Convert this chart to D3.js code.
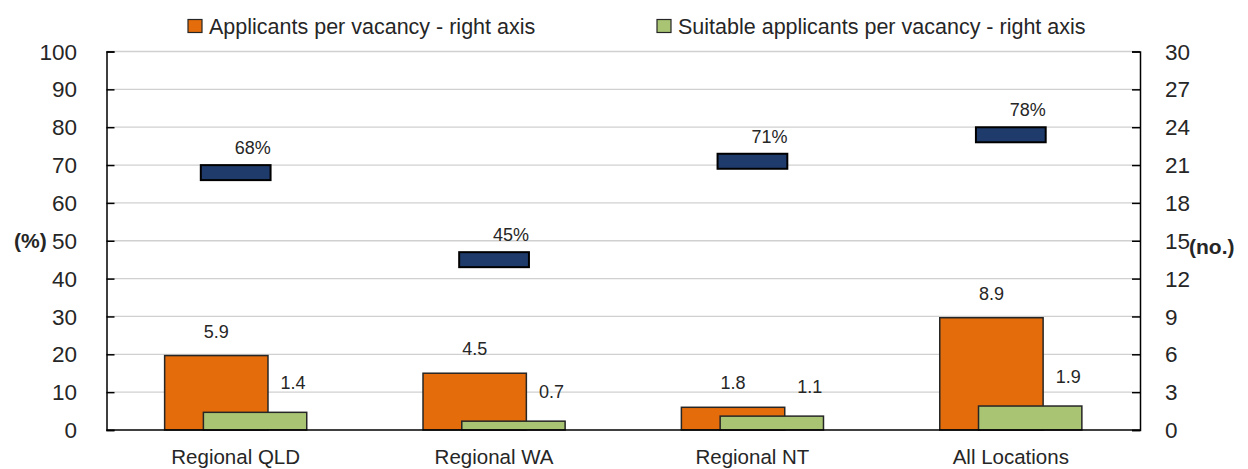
<!DOCTYPE html>
<html><head><meta charset="utf-8">
<script src="https://cdn.jsdelivr.net/npm/d3@7"></script>
<style>body{margin:0;background:#fff}svg{display:block}text{font-family:"Liberation Sans",Arial,sans-serif;fill:#262626}</style>
</head><body><svg id="c" width="1248" height="469"></svg>
<script>
const categories = ["Regional QLD","Regional WA","Regional NT","All Locations"];
const applicants = [5.9,4.5,1.8,8.9];
const suitable = [1.4,0.7,1.1,1.9];
const suitableShare = [68,45,71,78];
const leftTicks = [0,10,20,30,40,50,60,70,80,90,100];
const rightTicks = [0,3,6,9,12,15,18,21,24,27,30];
const legendLabels = ["Applicants per vacancy - right axis","Suitable applicants per vacancy - right axis"];

const svg = d3.select("#c");
const L = 106.5, R = 1140, T = 51.5, B = 430;
const x = d3.scaleBand().domain(categories).range([L,R]).padding(0);
const yL = d3.scaleLinear().domain([0,100]).range([B,T]);
const yR = d3.scaleLinear().domain([0,30]).range([B,T]);
const bw = x.bandwidth();
const barW = bw*0.4, off = bw*0.075;
const orange="#E46C0A", green="#A9C574", navy="#1F3B6B", edge="#262626";

// gridlines
svg.append("g").selectAll("line").data(leftTicks.slice(1)).join("line")
  .attr("x1",L).attr("x2",R).attr("y1",d=>yL(d)).attr("y2",d=>yL(d))
  .attr("stroke","#d0d0d0").attr("stroke-width",1.3);

// axes
const gl = svg.append("g").attr("transform",`translate(${L},0)`)
  .call(d3.axisRight(yL).tickValues(leftTicks).tickSize(8).tickFormat(""));
const gr = svg.append("g").attr("transform",`translate(${R},0)`)
  .call(d3.axisLeft(yR).tickValues(rightTicks).tickSize(8).tickFormat(""));
[gl,gr].forEach(g=>{g.select(".domain").attr("stroke","#000").attr("stroke-width",1.5);g.selectAll(".tick line").attr("stroke","#000").attr("stroke-width",1.5);});

svg.append("g").selectAll("text").data(leftTicks).join("text")
  .attr("x",77).attr("y",d=>yL(d)).attr("dy","0.36em").attr("text-anchor","end")
  .attr("font-size",22.5).text(d=>d);
svg.append("g").selectAll("text").data(rightTicks).join("text")
  .attr("x",1165).attr("y",d=>yR(d)).attr("dy","0.36em").attr("text-anchor","start")
  .attr("font-size",22.5).text(d=>d);

// bars
const g = svg.append("g");
g.selectAll("rect.a").data(categories).join("rect").attr("class","a")
  .attr("x",(d)=>x(d)+bw/2-off-barW/2).attr("width",barW)
  .attr("y",(d,i)=>yR(applicants[i])).attr("height",(d,i)=>B-yR(applicants[i]))
  .attr("fill",orange).attr("stroke",edge).attr("stroke-width",1.5);
g.selectAll("rect.s").data(categories).join("rect").attr("class","s")
  .attr("x",(d)=>x(d)+bw/2+off-barW/2).attr("width",barW)
  .attr("y",(d,i)=>yR(suitable[i])).attr("height",(d,i)=>B-yR(suitable[i]))
  .attr("fill",green).attr("stroke",edge).attr("stroke-width",1.5);

// x axis line
svg.append("line").attr("x1",L).attr("x2",R).attr("y1",B).attr("y2",B).attr("stroke","#000").attr("stroke-width",1.5);

// markers
const mW = bw*0.27, mH = 15;
g.selectAll("rect.m").data(categories).join("rect").attr("class","m")
  .attr("x",d=>x(d)+bw/2-mW/2).attr("width",mW)
  .attr("y",(d,i)=>yL(suitableShare[i])-mH/2).attr("height",mH)
  .attr("fill",navy).attr("stroke","#000").attr("stroke-width",2);

// labels
const lab = svg.append("g");
lab.selectAll("text.m").data(categories).join("text")
  .attr("x",d=>x(d)+bw/2+17).attr("y",(d,i)=>yL(suitableShare[i])-mH/2-11)
  .attr("text-anchor","middle").attr("font-size",18).text((d,i)=>suitableShare[i]+"%");
lab.selectAll("text.a").data(categories).join("text")
  .attr("x",d=>x(d)+bw/2-off).attr("y",(d,i)=>yR(applicants[i])-18)
  .attr("text-anchor","middle").attr("font-size",18).text((d,i)=>applicants[i].toFixed(1));
lab.selectAll("text.s").data(categories).join("text")
  .attr("x",d=>x(d)+bw/2+off+38).attr("y",(d,i)=>yR(suitable[i])-23)
  .attr("text-anchor","middle").attr("font-size",18).text((d,i)=>suitable[i].toFixed(1));

// category labels
svg.append("g").selectAll("text").data(categories).join("text")
  .attr("x",d=>x(d)+bw/2).attr("y",464).attr("text-anchor","middle")
  .attr("font-size",20.5).text(d=>d);

// axis titles
svg.append("text").attr("x",14).attr("y",yL(50)).attr("dy","0.36em").attr("font-size",21).attr("font-weight","bold").text("(%)");
svg.append("text").attr("x",1189).attr("y",yR(15)+6).attr("dy","0.36em").attr("font-size",21).attr("font-weight","bold").text("(no.)");

// legend
const legX = [188, 657];
const lg = svg.append("g");
legendLabels.forEach((t,i)=>{
  lg.append("rect").attr("x",legX[i]).attr("y",19.5).attr("width",14).attr("height",13)
    .attr("fill",[orange,green][i]).attr("stroke",edge).attr("stroke-width",1.2);
  lg.append("text").attr("x",legX[i]+21).attr("y",26).attr("dy","0.36em").attr("font-size",21.5).text(t);
});
</script></body></html>
